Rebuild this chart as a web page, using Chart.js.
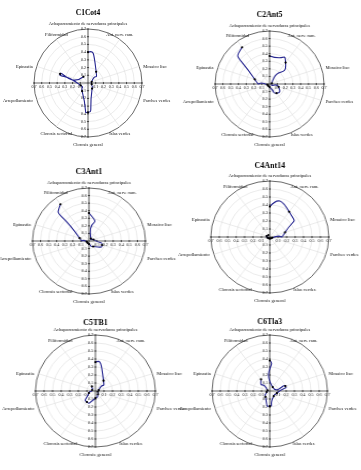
<!DOCTYPE html>
<html lang="es">
<head>
<meta charset="UTF-8">
<title>Síntomas por aislado</title>
<script src="https://cdn.jsdelivr.net/npm/chart.js"></script>
<style>
  body { margin: 0; background: #fff; width: 361px; height: 470px; position: relative; overflow: hidden; }
  canvas { position: absolute; transform-origin: 0 0; }
</style>
</head>
<body>
<script>
const sintomas = ['Achaparramiento de nervaduras principales', 'Ant. nerv. ram.', 'Mosaico liso', 'Parches verdes',
  'Islas verdes', 'Clorosis general', 'Clorosis sectorial', 'Arrepollamiento', 'Epinastia', 'Filiformidad'];
const marcas = [0.1, 0.2, 0.3, 0.4, 0.5, 0.6, 0.7];

const c1Cot4 = [0.40, 0.18, 0.05, 0.05, 0.09, 0.38, 0.13, 0.10, 0.38, 0.10];
const c2Ant5 = [0.37, 0.35, 0.03, 0.12, 0.15, 0.04, 0.03, 0.03, 0.20, 0.60];
const c3Ant1 = [0.37, 0.04, 0.06, 0.17, 0.09, 0.04, 0.03, 0.03, 0.12, 0.60];
const c4Ant14 = [0.38, 0.39, 0.19, 0.03, 0.02, 0.02, 0.02, 0.03, 0.04, 0.03];
const c5TB1 = [0.36, 0.16, 0.04, 0.03, 0.05, 0.09, 0.17, 0.08, 0.04, 0.07];
const c6Tla3 = [0.38, 0.06, 0.20, 0.09, 0.08, 0.19, 0.09, 0.04, 0.03, 0.18];

// posición de cada gráfico en la página (centro y radios en px)
const graficos = [
  { titulo: 'C1Cot4', datos: c1Cot4, cx: 87.5, cy: 82.5, rx: 54, ry: 54, ty: 12.5 },
  { titulo: 'C2Ant5', datos: c2Ant5, cx: 269.5, cy: 84, rx: 54.5, ry: 53, ty: 15.5 },
  { titulo: 'C3Ant1', datos: c3Ant1, cx: 89, cy: 241, rx: 56.5, ry: 53, ty: 172 },
  { titulo: 'C4Ant14', datos: c4Ant14, cx: 269.5, cy: 236.5, rx: 59, ry: 56, ty: 166 },
  { titulo: 'C5TB1', datos: c5TB1, cx: 95, cy: 391, rx: 60, ry: 56, ty: 323 },
  { titulo: 'C6Tla3', datos: c6Tla3, cx: 270, cy: 391, rx: 57.7, ry: 56, ty: 322 }
];

const ANCHO = 180, ALTO = 170, CX = 90, CY = 88;
const SERIF = '"Liberation Serif", "Times New Roman", serif';
const AZUL = '#262690';

const ejesPlugin = {
  id: 'ejesPlugin',
  beforeDatasetsDraw(chart, args, opts) {
    const {ctx} = chart;
    const r = chart.scales.r;
    const x0 = r.xCenter, y0 = r.yCenter;
    const R = r.getDistanceFromCenterForValue(0.7);
    ctx.save();
    ctx.strokeStyle = '#000';
    ctx.lineWidth = 0.6;
    ctx.beginPath();
    ctx.moveTo(x0 - R, y0); ctx.lineTo(x0 + R, y0);
    ctx.moveTo(x0, y0 - R); ctx.lineTo(x0, y0 + R);
    ctx.stroke();

    ctx.fillStyle = '#222';
    ctx.font = '4px ' + SERIF;
    marcas.forEach(v => {
      const d = r.getDistanceFromCenterForValue(v);
      const txt = v.toFixed(1);
      ctx.beginPath();
      ctx.moveTo(x0 - d, y0 - 1); ctx.lineTo(x0 - d, y0 + 1);
      ctx.moveTo(x0 + d, y0 - 1); ctx.lineTo(x0 + d, y0 + 1);
      ctx.moveTo(x0 - 1, y0 - d); ctx.lineTo(x0 + 1, y0 - d);
      ctx.moveTo(x0 - 1, y0 + d); ctx.lineTo(x0 + 1, y0 + d);
      ctx.stroke();
      ctx.textAlign = 'center';
      ctx.textBaseline = 'top';
      ctx.fillText(txt, x0 - d, y0 + 2);
      ctx.fillText(txt, x0 + d, y0 + 2);
      ctx.textAlign = 'right';
      ctx.textBaseline = 'middle';
      ctx.fillText(txt, x0 - 2, y0 - d);
      ctx.fillText(txt, x0 - 2, y0 + d);
    });

    // nombres de los síntomas alrededor del círculo
    ctx.fillStyle = '#111';
    ctx.font = '4.5px ' + SERIF;
    sintomas.forEach((s, i) => {
      const p = r.getPointPositionForValue(i, 0.7);
      const a = i * Math.PI * 2 / sintomas.length;
      const sn = Math.sin(a), cs = Math.cos(a);
      ctx.textBaseline = 'middle';
      if (Math.abs(sn) > 0.9) {
        ctx.textAlign = sn > 0 ? 'left' : 'right';
        ctx.fillText(s, p.x + (sn > 0 ? 4 : -4), p.y + (cs < 0 ? 1 : 0));
      } else {
        ctx.textAlign = 'center';
        ctx.fillText(s, p.x, p.y + (cs > 0 ? -5 : 7.5));
      }
    });

    ctx.font = 'bold 7.5px ' + SERIF;
    ctx.fillStyle = '#000';
    ctx.textAlign = 'center';
    ctx.textBaseline = 'middle';
    ctx.fillText(opts.titulo, x0, opts.ty);

    // curva abierta: de Achaparramiento a Filiformidad, sin cerrar
    const meta = chart.getDatasetMeta(0);
    meta.dataset.updateControlPoints(chart.chartArea, 'r');
    const pts = meta.data;
    ctx.strokeStyle = AZUL;
    ctx.lineWidth = 1.1;
    ctx.beginPath();
    ctx.moveTo(pts[0].x, pts[0].y);
    for (let i = 1; i < pts.length; i++) {
      const a = pts[i - 1], b = pts[i];
      ctx.bezierCurveTo(a.cp2x, a.cp2y, b.cp1x, b.cp1y, b.x, b.y);
    }
    ctx.stroke();
    ctx.restore();
  }
};

graficos.forEach(g => {
  const canvas = document.createElement('canvas');
  canvas.width = ANCHO;
  canvas.height = ALTO;
  const sx = g.rx / g.ry;
  canvas.style.left = (g.cx - CX * sx) + 'px';
  canvas.style.top = (g.cy - CY) + 'px';
  canvas.style.transform = 'scaleX(' + sx + ')';
  document.body.appendChild(canvas);

  new Chart(canvas, {
    type: 'radar',
    data: {
      labels: sintomas,
      datasets: [{
        data: g.datos,
        borderColor: AZUL,
        showLine: false,
        fill: false,
        tension: 1,
        pointRadius: 1.1,
        pointBackgroundColor: '#000',
        pointBorderWidth: 0
      }]
    },
    options: {
      responsive: false,
      animation: false,
      layout: { padding: { left: CX - g.ry, right: ANCHO - CX - g.ry, top: CY - g.ry, bottom: ALTO - CY - g.ry } },
      plugins: {
        legend: { display: false },
        tooltip: { enabled: false },
        ejesPlugin: { titulo: g.titulo, ty: g.ty - (g.cy - CY) }
      },
      scales: {
        r: {
          min: 0,
          max: 0.7,
          ticks: { display: false, stepSize: 0.1 },
          grid: {
            circular: true,
            color: c => c.tick.value > 0.65 ? '#444' : '#dedede',
            lineWidth: c => c.tick.value > 0.65 ? 0.8 : 0.6
          },
          angleLines: { color: '#dedede', lineWidth: 0.6 },
          pointLabels: { display: false }
        }
      }
    },
    plugins: [ejesPlugin]
  });
});
</script>
</body>
</html>
